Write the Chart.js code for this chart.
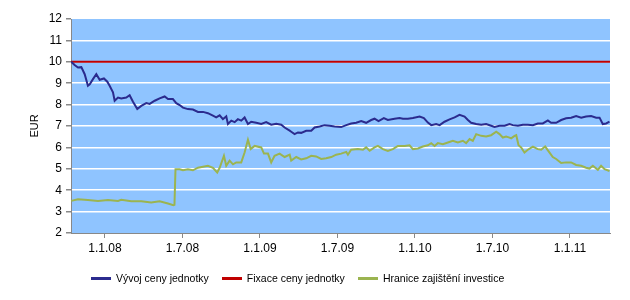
<!DOCTYPE html>
<html lang="cs">
<head>
    <meta charset="UTF-8">
    <title>Vývoj ceny jednotky</title>
    <script src="https://cdn.jsdelivr.net/npm/chart.js"></script>
    <style>
        body {
            margin: 0;
            background: #ffffff;
        }
        #wrap {
            position: relative;
            width: 630px;
            height: 300px;
        }
        /* legend is laid out by hand, Chart.js centres it elsewhere */
        #legend {
            position: absolute;
            left: 91px;
            top: 272px;
            display: flex;
            align-items: center;
            font-family: 'Liberation Sans', Arial, sans-serif;
            font-size: 10.5px;
            line-height: 12px;
            color: #000;
            white-space: nowrap;
        }
        #legend .item {
            display: flex;
            align-items: center;
            margin-right: 13px;
        }
        #legend .swatch {
            width: 20px;
            height: 3px;
            margin-right: 5px;
        }
    </style>
</head>
<body>
<div id="wrap">
    <canvas id="chart" width="630" height="300"></canvas>
    <div id="legend"></div>
</div>
<script>
// x values are months since 1.1.2008
const tickMonths = [0, 6, 12, 18, 24, 30, 36];
const tickLabels = ["1.1.08", "1.7.08", "1.1.09", "1.7.09", "1.1.10", "1.7.10", "1.1.11"];

const blueMonths = [-2.61, -2.35, -2.09, -1.83, -1.57, -1.32, -1.18, -0.93, -0.67, -0.41, -0.08, 0.18, 0.36, 0.62, 0.75,
    1.01, 1.26, 1.65, 1.91, 2.17, 2.50, 2.81, 3.20, 3.46, 3.85, 4.23, 4.62, 4.88, 5.26, 5.52, 5.78,
    6.04, 6.42, 6.81, 7.20, 7.59, 7.97, 8.36, 8.61, 8.88, 9.13, 9.39, 9.52, 9.78, 10.04, 10.29, 10.55, 10.81, 11.07, 11.32, 11.71,
    12.10, 12.48, 12.87, 13.26, 13.65, 13.91, 14.30, 14.42, 14.68, 14.94, 15.19, 15.58, 15.97, 16.23, 16.62, 17.00, 17.39, 17.78,
    18.29, 18.68, 19.06, 19.45, 19.84, 20.22, 20.61, 20.87, 21.18, 21.59, 21.90, 22.42, 22.81, 23.07, 23.45, 23.84,
    24.36, 24.69, 25.00, 25.26, 25.64, 25.91, 26.29, 26.68, 27.07, 27.45, 27.84, 28.10, 28.35, 28.74, 29.13, 29.51, 29.90,
    30.16, 30.55, 30.94, 31.32, 31.58, 31.97, 32.35, 32.74, 33.13, 33.51, 33.90, 34.29, 34.54, 34.93, 35.32, 35.70,
    36.09, 36.48, 36.87, 37.25, 37.64, 38.03, 38.29, 38.54, 38.80, 39.06];
const blueValues = [10.0, 9.85, 9.73, 9.75, 9.42, 8.88, 8.95, 9.19, 9.42, 9.16, 9.22, 9.07, 8.88, 8.57, 8.18,
    8.33, 8.29, 8.33, 8.44, 8.13, 7.79, 7.94, 8.07, 8.03, 8.18, 8.29, 8.38, 8.26, 8.26, 8.07, 7.98,
    7.86, 7.79, 7.77, 7.66, 7.66, 7.60, 7.48, 7.40, 7.50, 7.32, 7.45, 7.09, 7.25, 7.18, 7.32, 7.25, 7.40, 7.09, 7.20, 7.15,
    7.10, 7.18, 7.06, 7.10, 7.06, 6.93, 6.78, 6.73, 6.62, 6.70, 6.68, 6.78, 6.78, 6.93, 6.98, 7.04, 7.01, 6.98,
    6.95, 7.04, 7.12, 7.15, 7.23, 7.15, 7.28, 7.34, 7.23, 7.37, 7.28, 7.34, 7.37, 7.34, 7.34, 7.37,
    7.44, 7.37, 7.16, 7.04, 7.09, 7.04, 7.20, 7.31, 7.40, 7.52, 7.44, 7.28, 7.15, 7.09, 7.06, 7.09, 7.01,
    6.96, 7.01, 7.01, 7.09, 7.04, 7.01, 7.06, 7.06, 7.04, 7.12, 7.12, 7.26, 7.15, 7.15, 7.28, 7.36,
    7.39, 7.47, 7.39, 7.44, 7.47, 7.39, 7.39, 7.09, 7.12, 7.20];

const redMonths = [-2.63, 39.1];
const redValues = [10, 10];

const greenMonths = [-2.61, -2.09, -1.32, -0.54, 0.23, 1.01, 1.26, 2.04, 2.81, 3.58, 4.23, 4.88, 5.29, 5.38, 5.46, 5.78,
    6.04, 6.42, 6.81, 7.20, 7.97, 8.36, 8.69, 8.88, 9.21, 9.39, 9.65, 9.91, 10.16, 10.55, 10.81, 11.07, 11.28, 11.59,
    12.10, 12.31, 12.62, 12.87, 13.13, 13.52, 13.91, 14.30, 14.42, 14.81, 15.19, 15.58, 15.97, 16.35, 16.74, 17.13, 17.52, 17.90,
    18.29, 18.68, 18.81, 19.06, 19.58, 19.97, 20.22, 20.49, 20.87, 21.13, 21.52, 21.90, 22.29, 22.68, 23.20, 23.58, 23.84,
    24.23, 24.61, 25.00, 25.26, 25.52, 25.77, 26.16, 26.55, 26.93, 27.32, 27.71, 27.96, 28.23, 28.48, 28.74, 29.13, 29.51, 29.90,
    30.29, 30.55, 30.80, 31.06, 31.32, 31.45, 31.71, 31.84, 32.02, 32.22, 32.48, 32.74, 33.13, 33.51, 33.77, 34.08, 34.42, 34.67, 34.93, 35.32, 35.70,
    36.09, 36.48, 36.87, 37.25, 37.51, 37.77, 38.16, 38.41, 38.68, 39.06];
const greenValues = [3.50, 3.58, 3.54, 3.50, 3.54, 3.50, 3.55, 3.48, 3.48, 3.42, 3.48, 3.38, 3.30, 3.32, 4.98, 4.98,
    4.93, 4.98, 4.93, 5.05, 5.14, 5.05, 4.83, 5.05, 5.61, 5.14, 5.38, 5.21, 5.30, 5.30, 5.76, 6.36, 5.92, 6.07,
    6.00, 5.71, 5.71, 5.30, 5.61, 5.71, 5.55, 5.66, 5.38, 5.55, 5.44, 5.49, 5.61, 5.58, 5.46, 5.49, 5.55, 5.66,
    5.71, 5.79, 5.66, 5.89, 5.92, 5.89, 6.00, 5.84, 6.00, 6.07, 5.92, 5.84, 5.92, 6.07, 6.07, 6.10, 5.92,
    5.95, 6.04, 6.10, 6.20, 6.07, 6.20, 6.15, 6.23, 6.31, 6.23, 6.31, 6.20, 6.39, 6.31, 6.62, 6.54, 6.51, 6.57,
    6.73, 6.62, 6.46, 6.51, 6.46, 6.42, 6.54, 6.57, 6.10, 6.00, 5.76, 5.89, 6.04, 5.92, 5.89, 6.04, 5.76, 5.55, 5.46, 5.27, 5.30,
    5.30, 5.18, 5.14, 5.05, 5.01, 5.14, 4.95, 5.14, 4.98, 4.90];

function toPoints(xs, ys) {
    return xs.map((x, i) => ({ x: x, y: ys[i] }));
}

// fill the plot area with the light blue background
const plotBackground = {
    id: 'plotBackground',
    beforeDraw(chart) {
        const { ctx, chartArea } = chart;
        ctx.save();
        ctx.fillStyle = '#8fc4ff';
        ctx.fillRect(chartArea.left, chartArea.top, chartArea.right - chartArea.left, chartArea.bottom - chartArea.top);
        ctx.restore();
    }
};

const fontFamily = "'Liberation Sans', Arial, sans-serif";

const chart = new Chart(document.getElementById('chart'), {
    type: 'line',
    data: {
        datasets: [
            { label: 'Vývoj ceny jednotky', data: toPoints(blueMonths, blueValues), borderColor: '#2b2b8e', backgroundColor: '#2b2b8e' },
            { label: 'Fixace ceny jednotky', data: toPoints(redMonths, redValues), borderColor: '#c00000', backgroundColor: '#c00000' },
            { label: 'Hranice zajištění investice', data: toPoints(greenMonths, greenValues), borderColor: '#9bb450', backgroundColor: '#9bb450' }
        ]
    },
    options: {
        responsive: false,
        animation: false,
        events: [],
        layout: { padding: { top: 19, right: 20, left: 0, bottom: 37 } },
        elements: {
            point: { radius: 0 },
            line: { borderWidth: 2, tension: 0 }
        },
        scales: {
            x: {
                type: 'linear',
                min: -2.63,
                max: 39.1,
                afterBuildTicks: (scale) => { scale.ticks = tickMonths.map(v => ({ value: v })); },
                afterFit: (scale) => { scale.height = 30; },
                ticks: {
                    autoSkip: false,
                    maxRotation: 0,
                    padding: 3,
                    color: '#000',
                    font: { family: fontFamily, size: 12 },
                    callback: (value) => tickLabels[tickMonths.indexOf(value)]
                },
                grid: { drawOnChartArea: false, tickLength: 5, color: '#888888' },
                border: { color: '#888888', width: 1 }
            },
            y: {
                min: 2,
                max: 12,
                afterFit: (scale) => { scale.width = 71; },
                ticks: {
                    stepSize: 1,
                    padding: 4,
                    color: '#000',
                    font: { family: fontFamily, size: 12 }
                },
                grid: {
                    tickLength: 5,
                    tickColor: '#888888',
                    lineWidth: 1.5,
                    color: (c) => (c.tick && (c.tick.value === 12 || c.tick.value === 2)) ? 'rgba(0,0,0,0)' : '#ffffff'
                },
                border: { color: '#888888', width: 1 },
                title: {
                    display: true,
                    text: 'EUR',
                    color: '#000',
                    padding: { top: 28, bottom: 0 },
                    font: { family: fontFamily, size: 11 }
                }
            }
        },
        plugins: {
            legend: { display: false },
            tooltip: { enabled: false }
        }
    },
    plugins: [plotBackground]
});

// build the legend from the datasets
const legendBox = document.getElementById('legend');
chart.data.datasets.forEach(ds => {
    const item = document.createElement('div');
    item.className = 'item';
    const swatch = document.createElement('span');
    swatch.className = 'swatch';
    swatch.style.background = ds.borderColor;
    const text = document.createElement('span');
    text.textContent = ds.label;
    item.appendChild(swatch);
    item.appendChild(text);
    legendBox.appendChild(item);
});
</script>
</body>
</html>
